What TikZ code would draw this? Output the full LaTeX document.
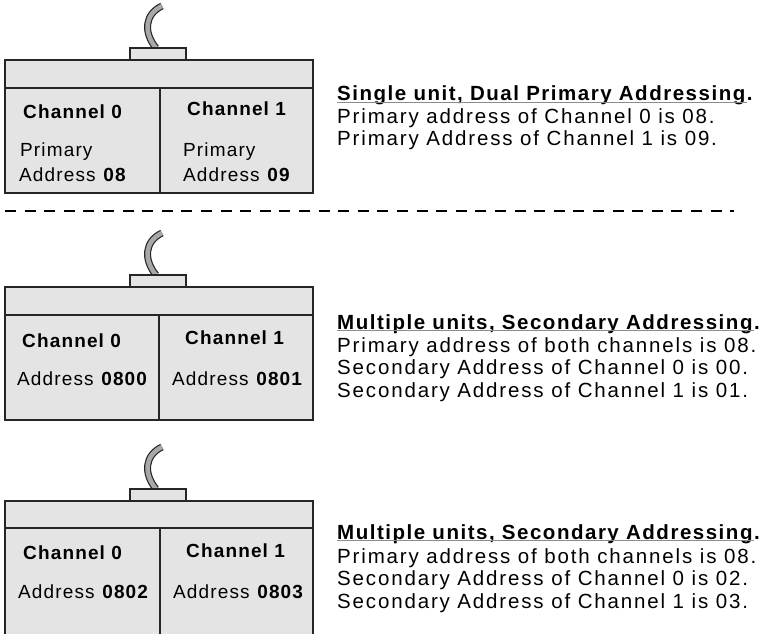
\documentclass[tikz,border=0pt]{standalone}
\usepackage{fontspec}
\setmainfont{Liberation Sans}
\newfontfamily\rfont[LetterSpace=9.0]{Liberation Sans}
\newfontfamily\hfont[LetterSpace=7.4]{Liberation Sans}
\newfontfamily\bxfont[LetterSpace=6]{Liberation Sans}
\definecolor{boxgray}{HTML}{E4E4E4}
\definecolor{cablegray}{HTML}{A8A8A8}
\definecolor{lineblk}{HTML}{262626}
\begin{document}
\begin{tikzpicture}[x=1pt,y=-1pt,
  unitbox/.style={draw=lineblk, line width=1.2pt, fill=boxgray},
  unitline/.style={draw=lineblk, line width=1.2pt},
  connbox/.style={draw=lineblk, line width=1.2pt, fill=boxgray},
  cableout/.style={draw=lineblk, line width=7pt},
  cablein/.style={draw=cablegray, line width=4.6pt},
  boxtxt/.style={font=\bxfont\fontsize{19}{21}\selectfont, inner sep=0pt, anchor=base west},
  rtxt/.style={font=\rfont\fontsize{20.5}{23}\selectfont, inner sep=0pt, anchor=base west},
  htxt/.style={font=\hfont\bfseries\fontsize{20.5}{23}\selectfont, inner sep=0pt, anchor=base west},
  headline/.style={draw=black!45, line width=0.8pt},
  sepline/.style={draw=black, line width=2pt, dash pattern=on 11pt off 8.6pt}
]
\clip (0,0) rectangle (764,634);
\fill[white] (0,0) rectangle (764,634);

% ---------- unit 1 ----------
\begin{scope}[shift={(0,60)}]
  \draw[cableout] (156,-12) .. controls (143,-28) and (145,-46) .. (162,-54);
  \draw[cablein]  (156,-12) .. controls (143,-28) and (145,-46) .. (162,-54);
  \draw[connbox] (130,-12) rectangle (186,0);
  \draw[unitbox] (5,0) rectangle (313,133);
  \draw[unitline] (5,28) -- (313,28);
  \draw[unitline] (160,28) -- (160,133);
  \node[boxtxt] (u1c0) at (23,59) {\textbf{Channel 0}};
  \node[boxtxt] (u1c1) at (187,56) {\textbf{Channel 1}};
  \node[boxtxt] (u1p0) at (20,97) {Primary};
  \node[boxtxt] (u1a0) at (19,122) {Address \textbf{08}};
  \node[boxtxt] (u1p1) at (183,97) {Primary};
  \node[boxtxt] (u1a1) at (183,122) {Address \textbf{09}};
\end{scope}
\node[htxt] (h1) at (337,101) {Single unit, Dual Primary Addressing.};
\draw[headline] ([yshift=-1.5pt]h1.base west) -- ([xshift=-6pt,yshift=-1.5pt]h1.base east);
\node[rtxt] (t1a) at (337,124) {Primary address of Channel 0 is 08.};
\node[rtxt] (t1b) at (337,146) {Primary Address of Channel 1 is 09.};

% ---------- separator ----------
\coordinate (sepL) at (5,211);
\coordinate (sepR) at (734,211);
\draw[sepline] (sepL) -- (sepR);

% ---------- unit 2 ----------
\begin{scope}[shift={(0,287)}]
  \draw[cableout] (156,-12) .. controls (143,-28) and (145,-46) .. (162,-54);
  \draw[cablein]  (156,-12) .. controls (143,-28) and (145,-46) .. (162,-54);
  \draw[connbox] (130,-12) rectangle (186,0);
  \draw[unitbox] (5,0) rectangle (313,133);
  \draw[unitline] (5,28) -- (313,28);
  \draw[unitline] (159,28) -- (159,133);
  \node[boxtxt] (u2c0) at (22,60) {\textbf{Channel 0}};
  \node[boxtxt] (u2c1) at (185,57) {\textbf{Channel 1}};
  \node[boxtxt] (u2a0) at (17,98) {Address \textbf{0800}};
  \node[boxtxt] (u2a1) at (172,98) {Address \textbf{0801}};
\end{scope}
\node[htxt] (h2) at (337,329) {Multiple units, Secondary Addressing.};
\draw[headline] ([yshift=-1.5pt]h2.base west) -- ([xshift=-6pt,yshift=-1.5pt]h2.base east);
\node[rtxt] (t2a) at (337,352) {Primary address of both channels is 08.};
\node[rtxt] (t2b) at (337,374) {Secondary Address of Channel 0 is 00.};
\node[rtxt] (t2c) at (337,397) {Secondary Address of Channel 1 is 01.};

% ---------- unit 3 ----------
\begin{scope}[shift={(0,501)}]
  \draw[cableout] (156,-12) .. controls (143,-28) and (145,-46) .. (162,-54);
  \draw[cablein]  (156,-12) .. controls (143,-28) and (145,-46) .. (162,-54);
  \draw[connbox] (130,-12) rectangle (186,0);
  \draw[unitbox] (5,0) rectangle (313,150);
  \draw[unitline] (5,27) -- (313,27);
  \draw[unitline] (160,27) -- (160,150);
  \node[boxtxt] (u3c0) at (23,58) {\textbf{Channel 0}};
  \node[boxtxt] (u3c1) at (186,56) {\textbf{Channel 1}};
  \node[boxtxt] (u3a0) at (18,97) {Address \textbf{0802}};
  \node[boxtxt] (u3a1) at (173,97) {Address \textbf{0803}};
\end{scope}
\node[htxt] (h3) at (337,539) {Multiple units, Secondary Addressing.};
\draw[headline] ([yshift=-1.5pt]h3.base west) -- ([xshift=-6pt,yshift=-1.5pt]h3.base east);
\node[rtxt] (t3a) at (337,563) {Primary address of both channels is 08.};
\node[rtxt] (t3b) at (337,585) {Secondary Address of Channel 0 is 02.};
\node[rtxt] (t3c) at (337,608) {Secondary Address of Channel 1 is 03.};
\end{tikzpicture}
\end{document}
